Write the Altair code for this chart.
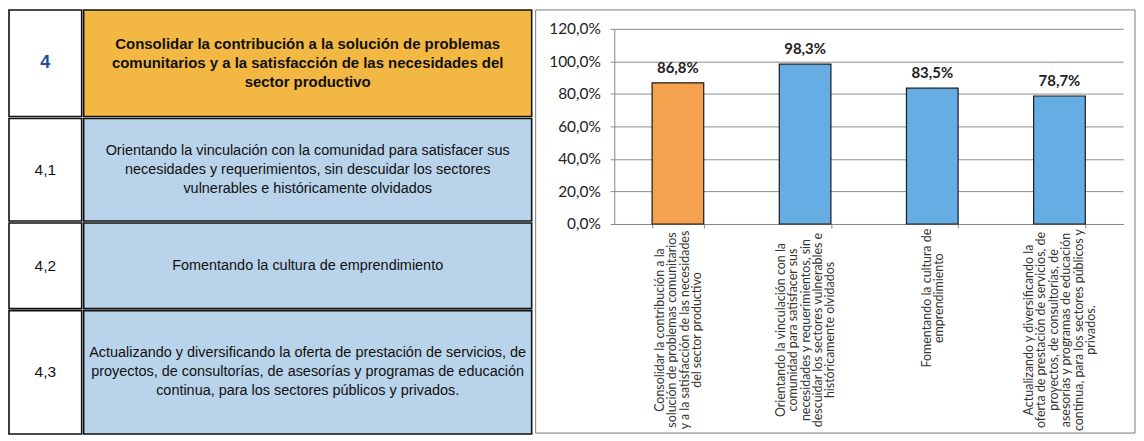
import altair as alt
import pandas as pd

# ---------------- data ----------------
codes = ["4", "4,1", "4,2", "4,3"]
row_texts = [
    "Consolidar la contribución a la solución de problemas\ncomunitarios y a la satisfacción de las necesidades del\nsector productivo",
    "Orientando la vinculación con la comunidad para satisfacer sus\nnecesidades y requerimientos, sin descuidar los sectores\nvulnerables e históricamente olvidados",
    "Fomentando la cultura de emprendimiento",
    "Actualizando y diversificando la oferta de prestación de servicios, de\nproyectos, de consultorías, de asesorías y programas de educación\ncontinua, para los sectores públicos y privados.",
]
axis_lines = [
    ["Consolidar la contribución a la", "solución de problemas comunitarios",
     "y a la satisfacción de las necesidades", "del sector productivo"],
    ["Orientando la vinculación con la", "comunidad para satisfacer sus",
     "necesidades y requerimientos, sin", "descuidar los sectores vulnerables e",
     "históricamente olvidados"],
    ["Fomentando la cultura de", "emprendimiento"],
    ["Actualizando y diversificando la", "oferta de prestación de servicios, de",
     "proyectos, de consultorías, de", "asesorías y programas de educación",
     "continua, para los sectores públicos y", "privados."],
]
values = [0.868, 0.983, 0.835, 0.787]
y_ticks = [0.0, 0.2, 0.4, 0.6, 0.8, 1.0, 1.2]

# ---------------- styles / layout ----------------
bar_colors = ["#F5A24E", "#66ADE3", "#66ADE3", "#66ADE3"]
cell_fills = ["#F3B843", "#B9D3EA", "#B9D3EA", "#B9D3EA"]
row_heights = [107, 103, 86, 124]
num_w, txt_w = 73, 450
W = 511
TOP = 19          # space above the 120% gridline inside the panel frame
H = 196 + TOP     # plot height including that top space
LH = 19           # table line height
XLH = 12.5        # x label line height


def cell(text, w, h, fill, size, weight, color):
    n = text.count("\n") + 1
    return (
        alt.Chart(pd.DataFrame({"t": [text]}))
        .transform_calculate(lines="split(datum.t, '\\n')")
        .mark_text(font="Liberation Sans", fontSize=size, fontWeight=weight,
                   color=color, lineHeight=LH, dy=-(n - 1) * LH / 2,
                   align="center", baseline="middle")
        .encode(text="lines:N")
        .properties(width=w, height=h,
                    view=alt.ViewBackground(fill=fill, stroke="#111111",
                                            strokeWidth=1.6))
    )


rows = []
for i in range(len(codes)):
    num = cell(codes[i], num_w, row_heights[i], "white",
               18 if i == 0 else 15.5, "bold" if i == 0 else "normal",
               "#1F4E9A" if i == 0 else "#111111")
    txt = cell(row_texts[i], txt_w, row_heights[i], cell_fills[i],
               15 if i == 0 else 14.5, "bold" if i == 0 else "normal",
               "#111111")
    rows.append(alt.hconcat(num, txt, spacing=0))
table = alt.vconcat(*rows, spacing=0)

df = pd.DataFrame({
    "code": codes,
    "eje": ["|".join(l) for l in axis_lines],
    "v": values,
})

x = alt.X(
    "eje:N", sort=None, title=None,
    scale=alt.Scale(paddingInner=0.594, paddingOuter=0.297),
    axis=alt.Axis(
        labelAngle=270, labelAlign="center", labelBaseline="middle",
        labelExpr="split(datum.label, '|')", labelLimit=0, labelOverlap=False,
        labelFont="Lato", labelFontSize=12.5, labelLineHeight=XLH,
        labelColor="#333333",
        labelPadding={"condition": {"test": "length(split(datum.value, '|')) < 3",
                                    "value": 70}, "value": 102},
        labelOffset={"expr": "-(length(split(datum.value, '|')) - 1) * %s" % (XLH / 2)},
        tickBand="extent", tickSize=4, tickColor="#888888",
        domainColor="#888888", grid=False,
    ),
)
y = alt.Y(
    "v:Q", title=None, scale=alt.Scale(domain=[0, 1.2], range=[H, TOP]),
    axis=alt.Axis(
        values=y_ticks,
        labelExpr="replace(format(datum.value, '.1%'), '.', ',')",
        labelFont="Lato", labelFontSize=15.5, labelColor="#222222",
        labelPadding=10, tickSize=4, tickColor="#888888",
        domainColor="#888888", gridColor="#8c8c8c", gridWidth=1,
    ),
)

base = alt.Chart(df).transform_calculate(
    lbl="replace(format(datum.v, '.1%'), '.', ',')"
)
bars = base.mark_bar(stroke="#1a1a1a", strokeWidth=1.2).encode(
    x=x, y=y,
    color=alt.Color("code:N", scale=alt.Scale(domain=codes, range=bar_colors),
                    legend=None),
)
labels = base.mark_text(font="Lato", fontWeight="bold", fontSize=15,
                        color="#222222", baseline="alphabetic", dy=-10).encode(
    x=x, y=y, text="lbl:N"
)
frame = alt.Chart(pd.DataFrame({"f": [0]})).mark_rect(
    fill="white", fillOpacity=0, stroke="#7a7a7a", strokeWidth=1
).encode(
    x=alt.value(-79), x2=alt.value(W + 12),
    y=alt.value(0), y2=alt.value(H + 210),
)

chart_panel = alt.layer(frame, bars, labels).properties(width=W, height=H)

chart = (
    alt.hconcat(table, chart_panel, spacing=2)
    .properties(padding=0)
    .configure(background="white")
    .configure_view(stroke="transparent")
)

chart.save("out.html", embed_options={"renderer": "svg", "actions": False})
